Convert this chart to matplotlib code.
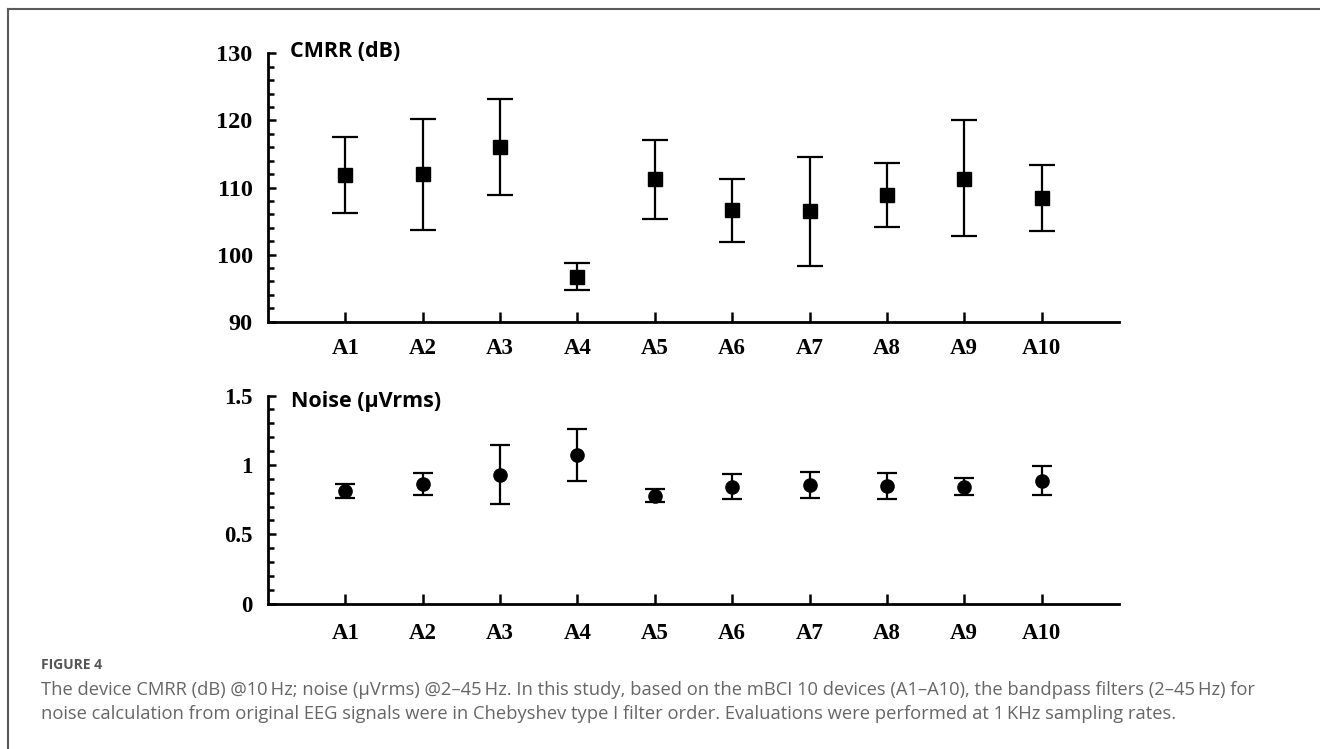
import numpy as np
import matplotlib
matplotlib.use("Agg")
import matplotlib.pyplot as plt
from matplotlib.lines import Line2D
from matplotlib.ticker import MultipleLocator

# devices A1..A10
devices = ["A1", "A2", "A3", "A4", "A5", "A6", "A7", "A8", "A9", "A10"]

# CMRR (dB): mean, upper and lower end of error bar
cmrr_mean = [111.9, 112.0, 116.0, 96.6, 111.2, 106.6, 106.5, 108.9, 111.3, 108.4]
cmrr_high = [117.5, 120.2, 123.2, 98.7, 117.1, 111.3, 114.6, 113.7, 120.0, 113.4]
cmrr_low = [106.2, 103.7, 108.9, 94.7, 105.3, 101.9, 98.3, 104.1, 102.7, 103.5]

# Noise (uVrms)
noise_mean = [0.812, 0.865, 0.927, 1.071, 0.774, 0.843, 0.853, 0.848, 0.841, 0.886]
noise_high = [0.865, 0.944, 1.143, 1.261, 0.824, 0.937, 0.949, 0.944, 0.903, 0.992]
noise_low = [0.759, 0.785, 0.716, 0.882, 0.730, 0.752, 0.759, 0.754, 0.781, 0.781]

caption_title = "FIGURE 4"
caption_1 = ("The device CMRR (dB) @10\u2009Hz; noise (\u00b5Vrms) @2\u201345\u2009Hz. In this study, "
             "based on the mBCI 10 devices (A1\u2013A10), the bandpass filters (2\u201345\u2009Hz) for")
caption_2 = ("noise calculation from original EEG signals were in Chebyshev type I filter order. "
             "Evaluations were performed at 1\u2009KHz sampling rates.")

x = np.arange(1, len(devices) + 1)

fig = plt.figure(figsize=(13.2, 7.49), dpi=100)
W, H = 1320, 749


def style_axis(ax, ylabels_size):
    for s in ["top", "right"]:
        ax.spines[s].set_visible(False)
    for s in ["left", "bottom"]:
        ax.spines[s].set_linewidth(2.0)
    ax.set_xlim(0, 11)
    ax.set_xticks(x)
    ax.set_xticklabels(devices, fontfamily="Liberation Serif", fontweight="bold", fontsize=16.5)
    ax.tick_params(axis="x", direction="in", length=7, width=1.8, pad=12)
    ax.tick_params(axis="y", which="major", direction="in", length=6, width=1.8, pad=11,
                   labelsize=ylabels_size)
    ax.tick_params(axis="y", which="minor", direction="in", length=4.5, width=1.8)
    for lab in ax.get_yticklabels():
        lab.set_fontfamily("Liberation Serif")
        lab.set_fontweight("bold")


# top panel: CMRR
ax1 = fig.add_axes([268 / W, 1 - 321.7 / H, (1119 - 268) / W, 268.4 / H])
cm = np.array(cmrr_mean)
ax1.errorbar(x, cm, yerr=[cm - np.array(cmrr_low), np.array(cmrr_high) - cm],
             fmt="s", color="black", markersize=10.5, elinewidth=1.6, capsize=9.5,
             capthick=1.6)
ax1.set_ylim(90, 130)
ax1.yaxis.set_major_locator(MultipleLocator(10))
ax1.yaxis.set_minor_locator(MultipleLocator(2))
style_axis(ax1, 17.5)
ax1.text((290 - 268) / (1119 - 268), 130.3, "CMRR (dB)", transform=ax1.get_yaxis_transform(),
         fontfamily="Open Sans", fontweight="bold", fontsize=15.5, va="center", ha="left")

# bottom panel: Noise
ax2 = fig.add_axes([268 / W, 1 - 603.7 / H, (1119 - 268) / W, 208.1 / H])
nm = np.array(noise_mean)
ax2.errorbar(x, nm, yerr=[nm - np.array(noise_low), np.array(noise_high) - nm],
             fmt="o", color="black", markersize=9.5, elinewidth=1.6, capsize=7,
             capthick=1.6)
ax2.set_ylim(0, 1.5)
ax2.set_yticks([0, 0.5, 1, 1.5])
ax2.set_yticklabels(["0", "0.5", "1", "1.5"])
ax2.yaxis.set_minor_locator(MultipleLocator(0.1))
style_axis(ax2, 16.5)
ax2.tick_params(axis="x", pad=14)
ax2.text((291 - 268) / (1119 - 268), 1.46, "Noise (\u00b5Vrms)", transform=ax2.get_yaxis_transform(),
         fontfamily="Open Sans", fontweight="bold", fontsize=15.5, va="center", ha="left")

# frame lines of the figure panel
fig.add_artist(Line2D([8 / W, 8 / W], [0, 1 - 8.5 / H], transform=fig.transFigure,
                      color="#5a5a5a", lw=1.5))
fig.add_artist(Line2D([8 / W, 1], [1 - 8.5 / H, 1 - 8.5 / H], transform=fig.transFigure,
                      color="#5a5a5a", lw=1.5))

# caption
fig.text(41 / W, 1 - 665 / H, caption_title, fontfamily="Open Sans", fontweight="bold",
         fontsize=10, color="#555555", va="center", ha="left")
fig.text(41 / W, 1 - 690 / H, caption_1, fontfamily="Open Sans", fontsize=13.2,
         color="#666666", va="center", ha="left")
fig.text(41 / W, 1 - 714 / H, caption_2, fontfamily="Open Sans", fontsize=13.2,
         color="#666666", va="center", ha="left")

fig.savefig("out.png", dpi=100)
